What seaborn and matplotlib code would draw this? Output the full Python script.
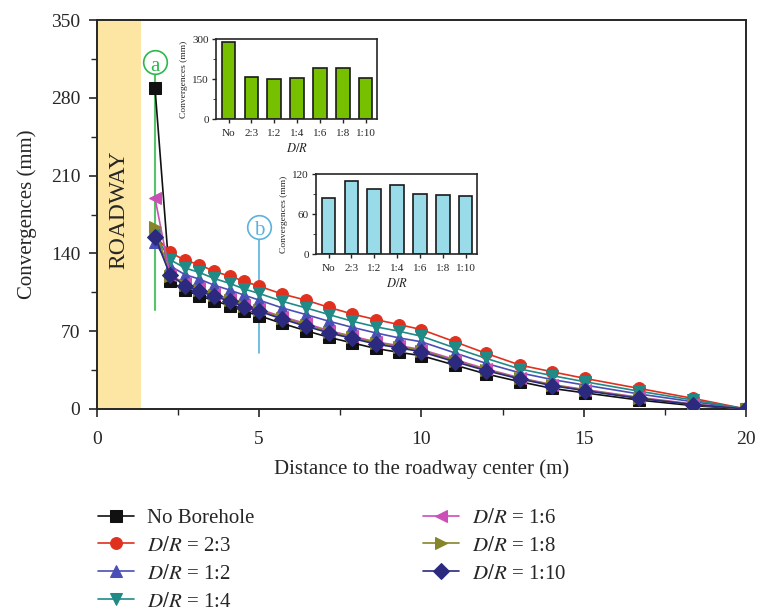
import numpy as np
import pandas as pd
import matplotlib
matplotlib.use("Agg")
import matplotlib.pyplot as plt
import seaborn as sns

# distance to roadway center (m)
distance = [1.79, 2.25, 2.71, 3.15, 3.61, 4.10, 4.54, 5.0, 5.71, 6.44, 7.15, 7.87,
            8.59, 9.31, 10.0, 11.03, 12.0, 13.04, 14.03, 15.04, 16.71, 18.38, 20.0]

no_borehole = [289, 115, 107, 102, 97.5, 93, 88, 84, 77, 70.5, 64.5, 59.5,
               54.5, 51, 48, 39.5, 31.5, 24.5, 18.5, 14.5, 8, 3, 0]
dr_2_3 = [156, 141, 134, 130, 124, 119.5, 115, 110.5, 103.5, 98, 91.5, 85.5,
          80.5, 76, 71.5, 60.5, 50, 39.5, 33.5, 27.5, 18.5, 9.5, 0]
dr_1_2 = [150, 129, 121, 117, 111.5, 107, 102.5, 98, 91, 85, 79, 73.5,
          68.5, 64, 60.5, 50.5, 41, 32.5, 26.5, 21.5, 13.5, 6.5, 0]
dr_1_4 = [157, 134.5, 127, 123, 117.5, 113, 108, 104, 97, 91, 85, 79,
          74, 70, 65.5, 55, 45.5, 36, 30, 24.5, 16, 8, 0]
dr_1_6 = [190, 121, 113, 108.5, 103.5, 99, 94, 90, 83, 77, 70.5, 65.5,
          60.5, 57, 53.5, 44.5, 36, 28, 22, 17.5, 10.5, 4.5, 0]
dr_1_8 = [164, 120, 112, 107.5, 102.5, 98, 93, 89, 82, 76, 69.5, 64.5,
          59.5, 56, 52.5, 43.5, 35, 27.5, 21.5, 17, 10, 4, 0]
dr_1_10 = [155, 121, 111, 106, 101.5, 97, 92, 88, 81, 74.5, 68.5, 63.5,
           58.5, 55, 51.5, 42.5, 34.5, 27, 21, 16.5, 9.5, 4, 0]

labels = ["No Borehole", r"$D/R$ = 2:3", r"$D/R$ = 1:2", r"$D/R$ = 1:4",
          r"$D/R$ = 1:6", r"$D/R$ = 1:8", r"$D/R$ = 1:10"]
colors = ["#111111", "#e0301e", "#4a4fb5", "#1f8a86", "#cc4fb8", "#85852a", "#2b2a7e"]
markers = ["s", "o", "^", "v", "<", ">", "D"]

# inset bars
bar_cats = ["No", "2:3", "1:2", "1:4", "1:6", "1:8", "1:10"]
bars_a = [288, 157, 150, 155, 190, 192, 153]
bars_b = [85, 110, 98, 104, 90, 89, 88]

sns.set_style("ticks")
plt.rcParams['font.family'] = ['Liberation Serif', 'DejaVu Serif']
plt.rcParams['mathtext.fontset'] = 'stix'

fig = plt.figure(figsize=(7.57, 6.12), dpi=100)
ax = fig.add_axes([0.128, 0.3317, 0.8575, 0.6353])

ax.axvspan(0, 1.37, color="#fde6a4", lw=0, zorder=0)
ax.text(0.68, 179, "ROADWAY", rotation=90, ha="center", va="center", fontsize=17)

# marker lines a and b
ax.plot([1.79, 1.79], [89, 301], color="#55c46a", lw=1.5, zorder=1)
ax.plot([1.79], [312], marker="o", ms=17, mfc="white", mec="#2db84d", mew=1.2, zorder=5)
ax.text(1.79, 311, "a", color="#2db84d", ha="center", va="center_baseline", fontsize=15, zorder=6)
ax.plot([5.0, 5.0], [50, 153], color="#5ab2de", lw=1.2, zorder=1)
ax.plot([5.0], [164], marker="o", ms=17, mfc="white", mec="#5ab2de", mew=1.2, zorder=5)
ax.text(5.0, 163, "b", color="#5ab2de", ha="center", va="center_baseline", fontsize=15, zorder=6)

series = [no_borehole, dr_2_3, dr_1_2, dr_1_4, dr_1_6, dr_1_8, dr_1_10]
for vals, lab, c, m in zip(series, labels, colors, markers):
    sns.lineplot(x=distance, y=vals, ax=ax, color=c, marker=m, markersize=8.5,
                 markeredgecolor=c, linewidth=1.2, label=lab, zorder=3)

ax.set_xlim(0, 20)
ax.set_ylim(0, 350)
ax.set_xticks([0, 5, 10, 15, 20])
ax.set_xticks([2.5, 7.5, 12.5, 17.5], minor=True)
ax.set_yticks([0, 70, 140, 210, 280, 350])
ax.set_yticks([35, 105, 175, 245, 315], minor=True)
ax.tick_params(labelsize=14, width=1.2, length=6)
ax.tick_params(axis="x", pad=10)
ax.tick_params(axis="y", pad=6)
ax.tick_params(which="minor", width=1.0, length=4)
for s in ax.spines.values():
    s.set_linewidth(1.4)
ax.set_xlabel("Distance to the roadway center (m)", fontsize=15, labelpad=8)
ax.set_ylabel("Convergences (mm)", fontsize=15, labelpad=10)

ax.legend(loc="upper left", bbox_to_anchor=(-0.027, -0.207), ncol=2, frameon=False,
          fontsize=15, handlelength=1.7, columnspacing=8.1, labelspacing=0.4,
          handletextpad=0.65)


def draw_inset(rect, vals, color, ymax, step):
    ins = fig.add_axes(rect)
    sns.barplot(x=bar_cats, y=vals, color=color, edgecolor="#1a1a1a", linewidth=1.2,
                width=0.6, saturation=1, ax=ins)
    ins.set_xlim(-0.55, 6.5)
    ins.set_ylim(0, ymax)
    ins.set_yticks([0, step, 2 * step])
    ins.set_yticks([step / 2, step * 1.5], minor=True)
    ins.tick_params(labelsize=8, width=1.0, length=3, pad=2)
    ins.tick_params(axis="x", pad=4)
    ins.tick_params(which="minor", length=2)
    for s in ins.spines.values():
        s.set_linewidth(1.2)
    ins.set_ylabel("Convergences (mm)", fontsize=6.8, labelpad=3)
    ins.set_xlabel(r"$D/R$", fontsize=9, labelpad=3)
    return ins


draw_inset([0.2853, 0.805, 0.2127, 0.1312], bars_a, "#76c000", 300, 150)
draw_inset([0.4174, 0.5845, 0.2127, 0.1307], bars_b, "#99dbe9", 120, 60)

fig.savefig("out.png", dpi=100)
